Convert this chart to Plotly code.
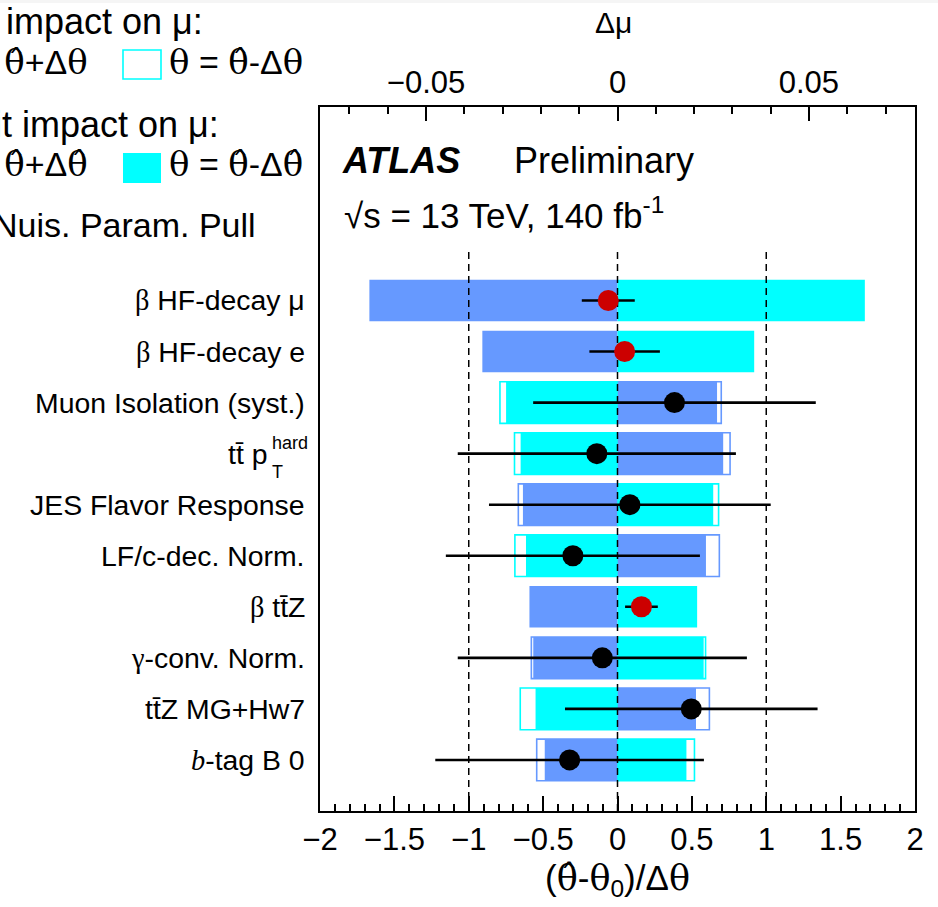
import plotly.graph_objects as go

# ---------------- data ----------------
labels = [
    "β HF-decay μ",
    "β HF-decay e",
    "Muon Isolation (syst.)",
    "tt̄ p",
    "JES Flavor Response",
    "LF/c-dec. Norm.",
    "β tt̄Z",
    "γ-conv. Norm.",
    "tt̄Z MG+Hw7",
    "b-tag B 0",
]
label_supsub = {3: ("hard", "T")}

# impacts on mu (Delta mu)
prefit_up = [None, None, 0.0271, 0.0294, -0.0259, 0.0266, None, -0.0225, 0.0240, -0.0211]
prefit_down = [None, None, -0.0307, -0.0269, 0.0264, -0.0268, None, 0.0230, -0.0254, 0.0201]
postfit_up = [-0.0648, -0.0353, 0.0260, 0.0276, -0.0247, 0.0231, -0.0230, -0.0220, 0.0205, -0.0190]
postfit_down = [0.0646, 0.0357, -0.0291, -0.0253, 0.0250, -0.0239, 0.0208, 0.0225, -0.0214, 0.0180]

# pulls
pulls = [-0.062, 0.048, 0.383, -0.139, 0.083, -0.300, 0.161, -0.102, 0.496, -0.322]
pull_err = [0.178, 0.237, 0.950, 0.935, 0.947, 0.854, 0.110, 0.972, 0.849, 0.903]
is_norm = [True, True, False, False, False, False, True, False, False, False]

ref_lines = [-1, 0, 1]
ref_top = 11

theta_range = [-2, 2]
dmu_range = [-0.0777, 0.0777]
y_range = [0, 13.79]

BLUE = "rgb(102,153,255)"
CYAN = "rgb(0,255,255)"
RED = "rgb(204,0,0)"
SANS = "Liberation Sans"
SERIF = "Liberation Serif"
HATSERIF = "DejaVu Serif"

n = len(labels)
ypos = [n - i for i in range(n)]

# ---------------- geometry helpers (pixel -> paper) ----------------
L, R, T, B = 320, 915, 107, 811
W, H = R - L, B - T


def px(x):
    return (x - L) / W


def py(y):
    return (B - y) / H


def serif(s, italic=False, family=SERIF):
    st = "font-family:%s;" % family
    if italic:
        st += "font-style:italic;"
    return '<span style="%s">%s</span>' % (st, s)


fig = go.Figure()

# pre-fit (hollow) bars
for vals, col in ((prefit_up, BLUE), (prefit_down, CYAN)):
    ys = [y for y, v in zip(ypos, vals) if v is not None]
    xs = [v for v in vals if v is not None]
    fig.add_trace(go.Bar(
        y=ys, x=xs, base=[0] * len(xs), orientation="h", width=0.816,
        marker=dict(color="white", line=dict(color=col, width=1.6)),
        xaxis="x", yaxis="y", showlegend=False, hoverinfo="skip"))

# post-fit (filled) bars
for vals, col in ((postfit_up, BLUE), (postfit_down, CYAN)):
    fig.add_trace(go.Bar(
        y=ypos, x=vals, base=[0] * n, orientation="h", width=0.816,
        marker=dict(color=col, line=dict(width=0)),
        xaxis="x", yaxis="y", showlegend=False, hoverinfo="skip"))

# dashed reference lines (on theta axis)
for xv in ref_lines:
    fig.add_trace(go.Scatter(
        x=[xv, xv], y=[0, ref_top], mode="lines",
        line=dict(color="black", width=1.5, dash="7px,5px"),
        xaxis="x2", yaxis="y", showlegend=False, hoverinfo="skip"))

# pulls
fig.add_trace(go.Scatter(
    x=pulls, y=ypos, mode="markers",
    marker=dict(size=21, color=[RED if f else "black" for f in is_norm], line=dict(width=0)),
    error_x=dict(type="data", array=pull_err, thickness=2.6, width=0, color="black"),
    xaxis="x2", yaxis="y", showlegend=False, hoverinfo="skip"))

annotations = []

# row labels
for i, (lab, y) in enumerate(zip(labels, ypos)):
    txt = lab.replace("β", serif("β")).replace("γ", serif("γ"))
    if lab.startswith("b-tag"):
        txt = serif("b", italic=True) + lab[1:]
    xr = 307
    if i in label_supsub:
        xr = 269
        sup, sub = label_supsub[i]
        annotations.append(dict(x=px(270), y=y + 0.21, xref="paper", yref="y", text=sup,
                                showarrow=False, xanchor="left", yanchor="middle",
                                font=dict(family=SANS, size=18, color="black")))
        annotations.append(dict(x=px(270), y=y - 0.36, xref="paper", yref="y", text=sub,
                                showarrow=False, xanchor="left", yanchor="middle",
                                font=dict(family=SANS, size=18, color="black")))
    annotations.append(dict(x=px(xr), y=y, xref="paper", yref="y", text=txt,
                            showarrow=False, xanchor="right", yanchor="middle",
                            font=dict(family=SANS, size=28.4, color="black")))

th = serif("θ", family=HATSERIF)
thh = serif("θ̂", family=HATSERIF)


def ann(x, y, text, size, anchor="left", **kw):
    d = dict(x=px(x), y=py(y), xref="paper", yref="paper", text=text, showarrow=False,
             xanchor=anchor, yanchor="middle", font=dict(family=SANS, size=size, color="black"))
    d.update(kw)
    annotations.append(d)


# ATLAS label
ann(340, 160, "<b><i>ATLAS</i></b>", 36)
ann(512, 160, "Preliminary", 36)
ann(342, 213, "√s = 13 TeV, 140 fb<sup>-1</sup>", 35)

# legend
LEG = 34
ann(-102, 22, "Pre-fit impact on μ:", 36)
ann(90, 62, th + " = " + thh + "+Δ" + th, LEG, anchor="right")
ann(167, 62, th + " = " + thh + "-Δ" + th, LEG)
ann(-102, 124, "Post-fit impact on μ:", 36)
ann(90, 164, th + " = " + thh + "+Δ" + thh, LEG, anchor="right")
ann(167, 164, th + " = " + thh + "-Δ" + thh, LEG)
ann(258, 225, "Nuis. Param. Pull", LEG, anchor="right")

# axis titles
ann(613, 23, "Δμ", 30, anchor="center")
ann(617, 880, "(" + thh + "-" + th + "<sub>0</sub>)/Δ" + th, 35, anchor="center")

shapes = [
    dict(type="rect", xref="paper", yref="paper", x0=px(-200), x1=px(-180), y0=py(79), y1=py(50),
         line=dict(color=BLUE, width=1.6), fillcolor="white"),
    dict(type="rect", xref="paper", yref="paper", x0=px(123), x1=px(161), y0=py(79), y1=py(50),
         line=dict(color=CYAN, width=1.6), fillcolor="white"),
    dict(type="rect", xref="paper", yref="paper", x0=px(123), x1=px(161), y0=py(183), y1=py(153),
         line=dict(width=0), fillcolor=CYAN),
    dict(type="rect", xref="paper", yref="paper", x0=px(0), x1=px(938), y0=py(3), y1=py(0),
         line=dict(width=0), fillcolor="rgb(245,245,245)", layer="below"),
]

axis_common = dict(showgrid=False, zeroline=False, showline=True, linewidth=2, linecolor="black",
                   ticks="inside", tickcolor="black", tickwidth=1.5,
                   tickfont=dict(family=SANS, size=31, color="black"))

fig.update_layout(
    width=938, height=907,
    margin=dict(l=L, r=938 - R, t=T, b=907 - B, pad=0),
    paper_bgcolor="white", plot_bgcolor="white",
    barmode="overlay",
    showlegend=False,
    xaxis=dict(range=dmu_range, side="top", anchor="y", tickmode="linear", tick0=0, dtick=0.05,
               ticklen=14, minor=dict(dtick=0.01, tick0=0, ticklen=7, ticks="inside",
                                      tickcolor="black", tickwidth=1.5),
               **axis_common),
    xaxis2=dict(range=theta_range, side="bottom", anchor="y", overlaying="x", tickmode="linear",
                tick0=0, dtick=0.5, ticklen=15,
                minor=dict(dtick=0.1, tick0=0, ticklen=7, ticks="inside", tickcolor="black",
                           tickwidth=1.5),
                **axis_common),
    yaxis=dict(range=y_range, showgrid=False, zeroline=False, showline=True, mirror=True,
               linewidth=2, linecolor="black", ticks="", showticklabels=False),
    annotations=annotations,
    shapes=shapes,
)

fig.write_html("out.html")
